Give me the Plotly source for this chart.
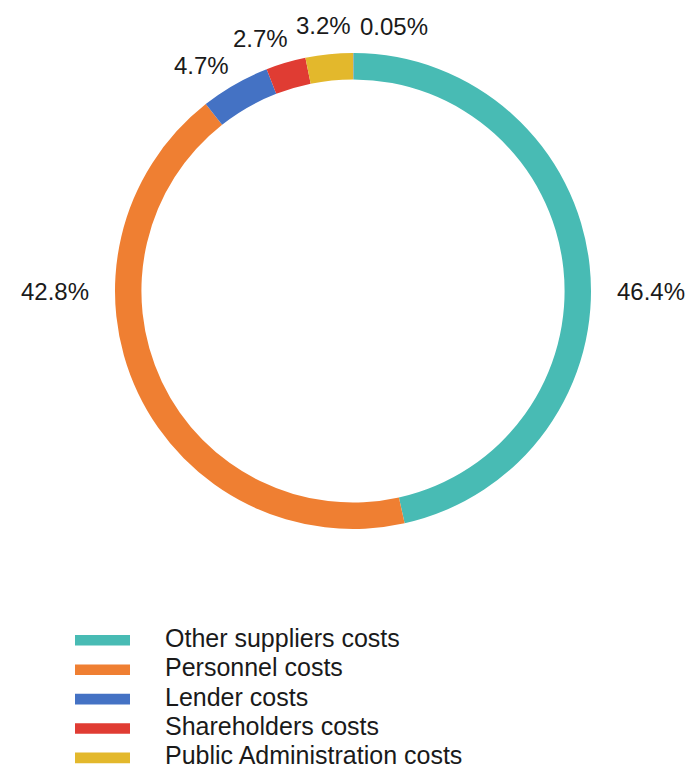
import math
import plotly.graph_objects as go

# Cost breakdown shown as a thin donut, drawn clockwise from 12 o'clock
categories = [
    "Community costs",
    "Other suppliers costs",
    "Personnel costs",
    "Lender costs",
    "Shareholders costs",
    "Public Administration costs",
]
shares = [0.05, 46.4, 42.8, 4.7, 2.7, 3.2]
share_labels = ["0.05%", "46.4%", "42.8%", "4.7%", "2.7%", "3.2%"]
colors = ["#9a9a9a", "#48bbb4", "#ef7f32", "#4472c4", "#e03c33", "#e3b82c"]

# Categories listed in the legend below the ring
legend_items = categories[1:]
legend_colors = colors[1:]

W, H = 690, 767
FONT = "Liberation Sans, Arial, sans-serif"
TEXT = "#1a1a1a"
LABEL_SIZE = 24
LEGEND_SIZE = 25

# ring geometry in pixels
CX, CY, R_OUT = 353, 291, 238
HOLE = 0.889
GAP_TOP, GAP_SIDE = 258, 264   # radius of the nearest label edge, top vs sides
LABEL_PAD = 9                  # horizontal breathing room between neighbouring labels

fig = go.Figure()
fig.add_trace(
    go.Pie(
        labels=categories,
        values=shares,
        text=share_labels,
        textinfo="none",
        marker=dict(colors=colors, line=dict(width=0)),
        hole=HOLE,
        sort=False,
        direction="clockwise",
        rotation=0,
        showlegend=False,
        hoverinfo="label+text",
        domain=dict(x=[(CX - R_OUT) / W, (CX + R_OUT) / W],
                    y=[(H - CY - R_OUT) / H, (H - CY + R_OUT) / H]),
    )
)

CHAR_W = {".": 0.278, "%": 0.889}


def text_width(s, size):
    return sum(CHAR_W.get(c, 0.556) for c in s) * size


# ---- outside percentage labels, placed from the slice angles ----
total = sum(shares)
angles = []
start = 0.0
for v in shares:
    span = 360.0 * v / total
    a0, a1 = start, start + span
    mid = (a0 + a1) / 2
    # a large slice that crosses the horizontal keeps its label level with the centre
    for snap in (90.0, 270.0):
        if a0 <= snap <= a1 and span > 90:
            mid = snap
    angles.append(mid if mid <= 180 else mid - 360)
    start = a1

widths = [text_width(s, LABEL_SIZE) for s in share_labels]

# spread crowded labels apart (pairwise pushes keep their mean angle)
order = sorted(range(len(angles)), key=lambda k: angles[k])
for _ in range(1000):
    moved = False
    for p in range(len(order) - 1):
        i, j = order[p], order[p + 1]
        need = math.degrees(((widths[i] + widths[j]) / 2 + LABEL_PAD) / 265.0)
        gap = angles[j] - angles[i]
        if gap < need - 1e-6:
            push = (need - gap) / 2
            angles[i] -= push
            angles[j] += push
            moved = True
    if not moved:
        break

annotations = []
for lab, ang, w in zip(share_labels, angles, widths):
    th = math.radians(ang)
    sx, cy = math.sin(th), math.cos(th)
    hw, hh = w / 2, 0.36 * LABEL_SIZE
    dx = hw / abs(sx) if abs(sx) > 1e-9 else float("inf")
    dy = hh / abs(cy) if abs(cy) > 1e-9 else float("inf")
    rc = GAP_TOP + (GAP_SIDE - GAP_TOP) * abs(sx) + min(dx, dy)
    px = CX + rc * sx
    py = CY - rc * cy
    annotations.append(dict(
        text=lab, xref="paper", yref="paper",
        x=px / W, y=(H - py) / H, xanchor="center", yanchor="middle",
        showarrow=False, font=dict(family=FONT, size=LABEL_SIZE, color=TEXT),
    ))

# ---- legend: wide colour swatches with labels, one row per category ----
row0, step = 640.3, 29.4
TEXT_LIFT = 2.5   # text sits slightly above the swatch centre line
shapes = []
for i, (name, col) in enumerate(zip(legend_items, legend_colors)):
    yc = row0 + i * step
    shapes.append(dict(
        type="rect", xref="paper", yref="paper",
        x0=75 / W, x1=130 / W,
        y0=(H - yc - 5.3) / H, y1=(H - yc + 5.3) / H,
        fillcolor=col, line=dict(width=0),
    ))
    annotations.append(dict(
        text=name, xref="paper", yref="paper",
        x=163 / W, y=(H - yc + TEXT_LIFT) / H, xanchor="left", yanchor="middle",
        showarrow=False, font=dict(family=FONT, size=LEGEND_SIZE, color=TEXT),
    ))

fig.update_layout(
    width=W, height=H,
    margin=dict(l=0, r=0, t=0, b=0),
    paper_bgcolor="white", plot_bgcolor="white",
    shapes=shapes, annotations=annotations,
)

fig.write_html("out.html")
